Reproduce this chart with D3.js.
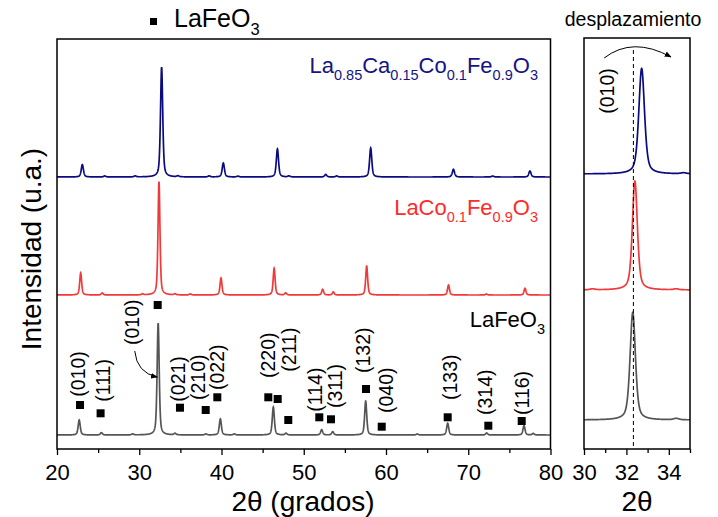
<!DOCTYPE html>
<html>
<head>
<meta charset="utf-8">
<script src="https://cdn.jsdelivr.net/npm/d3@7"></script>
<style>
body { margin: 0; background: #fff; }
text { font-family: "Liberation Sans", Arial, sans-serif; }
</style>
</head>
<body>
<svg id="chart" width="718" height="517"></svg>
<script>
// peaks: 2theta position, height (plot units ~ px)
const lfoPos = [22.7, 25.4, 29.2, 32.3, 34.35, 38.1, 39.86, 41.56, 46.3, 47.84, 52.18, 53.52, 57.53, 63.8, 67.5, 72.24, 76.78, 77.9];
const lfoHt  = [15, 2.3, 1, 112, 1.5, 1, 16, 1, 28, 1.7, 5.3, 3.3, 34, 1, 11.7, 2, 9.3, 1.5];
const lcfPos = [22.88, 25.5, 30.4, 32.4, 34.35, 36.2, 39.94, 46.4, 47.8, 52.3, 53.6, 57.65, 67.6, 72.2, 76.9];
const lcfHt  = [22, 2, 1, 113.5, 1, 1, 17, 26.7, 2, 5.7, 3, 29, 10, 1, 6.7];
const lccfPos = [23.08, 25.8, 29.5, 32.72, 34.7, 38.5, 40.22, 42, 46.8, 48.2, 52.67, 54, 58.14, 68.2, 72.97, 77.5];
const lccfHt  = [12.3, 1, 1, 110, 1, 1, 14, 0.8, 28, 1, 2.5, 1, 29, 7.7, 1, 6];

// vertical offsets of each pattern (main panel / zoom panel)
const offsetsMain = [14, 154, 272];
const offsetsZoom = [29, 159, 275];

// LaFeO3 reflections (markers) and hkl labels
const mkX = [22.8, 25.3, 32.24, 34.95, 38.08, 39.49, 45.69, 46.83, 48.12, 51.89, 53.31, 57.57, 59.48, 67.5, 72.44, 76.5];
const mkY = [44, 35.7, 144, 41.3, 39, 51.7, 51.7, 50, 29, 31.7, 29.7, 60, 22.3, 31.7, 23.3, 28];
const hklText = ["(010)", "(111)", "(010)", "(021)", "(210)", "(022)", "(220)", "(211)", "(114)", "(311)", "(132)", "(040)", "(133)", "(314)", "(116)"];
const hklX = [22.55, 25.59, 29.08, 34.75, 37.14, 39.53, 45.69, 48.24, 51.37, 53.8, 57.24, 60, 67.78, 72.04, 76.5];
const hklY = [52.3, 47.3, 104, 47.3, 49, 59, 71, 77.3, 37.3, 41, 76, 36, 49, 34, 34];

const mainTicks = [20, 30, 40, 50, 60, 70, 80];
const mainMinor = [25, 35, 45, 55, 65, 75];
const zoomTicks = [30, 32, 34];
const zoomMinor = [31, 33, 35];
const shiftRef = 32.33;

const svg = d3.select('#chart');
const colors = ['#555555', '#f03a3a', '#0b0b80'];

const x = d3.scaleLinear().domain([20, 80]).range([57, 550.5]);
const y = d3.scaleLinear().domain([0, 410]).range([449, 39]);
const xs = d3.scaleLinear().domain([30, 35]).range([584, 690]);
const ys = d3.scaleLinear().domain([0, 411]).range([449, 38]);

// pseudo-voigt profile built from the peak list
function profile(pos, hts, w, x0, x1, step, k) {
    const pts = [];
    for (let t = x0; t <= x1 + 1e-9; t += step) {
        let v = 0;
        for (let i = 0; i < pos.length; i++) {
            const u = (t - pos[i]) / w;
            v += hts[i] * k * (0.5 / (1 + 4 * u * u) + 0.5 * Math.exp(-2.7726 * u * u));
        }
        pts.push([t, v]);
    }
    return pts;
}

const series = [[lfoPos, lfoHt, 0.3], [lcfPos, lcfHt, 0.28], [lccfPos, lccfHt, 0.32]];

svg.append('clipPath').attr('id', 'clipMain').append('rect')
    .attr('x', 57).attr('y', 39).attr('width', 493.5).attr('height', 410);
svg.append('clipPath').attr('id', 'clipZoom').append('rect')
    .attr('x', 584).attr('y', 38).attr('width', 106).attr('height', 411);

// main panel curves
series.forEach((s, i) => {
    const pts = profile(s[0], s[1], s[2], 20, 80, 0.02, 1);
    svg.append('path')
        .datum(pts)
        .attr('clip-path', 'url(#clipMain)')
        .attr('fill', 'none')
        .attr('stroke', colors[i])
        .attr('stroke-width', 1.7)
        .attr('d', d3.line().x(d => x(d[0])).y(d => y(d[1] + offsetsMain[i])));
});

// zoom panel curves
series.forEach((s, i) => {
    const pts = profile(s[0], s[1], s[2], 30, 35, 0.005, 0.96);
    svg.append('path')
        .datum(pts)
        .attr('clip-path', 'url(#clipZoom)')
        .attr('fill', 'none')
        .attr('stroke', colors[i])
        .attr('stroke-width', 1.7)
        .attr('d', d3.line().x(d => xs(d[0])).y(d => ys(d[1] + offsetsZoom[i])));
});

// dashed reference line
svg.append('line')
    .attr('x1', xs(shiftRef)).attr('x2', xs(shiftRef))
    .attr('y1', 50).attr('y2', 449)
    .attr('stroke', '#000').attr('stroke-width', 1)
    .attr('stroke-dasharray', '4,3');

// frames
svg.append('rect').attr('x', 57).attr('y', 39).attr('width', 493.5).attr('height', 410)
    .attr('fill', 'none').attr('stroke', '#000').attr('stroke-width', 1.5);
svg.append('rect').attr('x', 584).attr('y', 38).attr('width', 106).attr('height', 411)
    .attr('fill', 'none').attr('stroke', '#000').attr('stroke-width', 1.5);

// axes
function styleAxis(g, size) {
    g.select('.domain').remove();
    g.selectAll('.tick line').attr('stroke', '#000').attr('stroke-width', 1.3);
    g.selectAll('.tick text').attr('font-size', size).attr('fill', '#000')
        .attr('font-family', '"Liberation Sans", Arial, sans-serif');
}
const fmt = d3.format('d');
svg.append('g').attr('transform', 'translate(0,449)')
    .call(d3.axisBottom(x).tickValues(mainTicks).tickSize(6).tickPadding(9).tickFormat(fmt))
    .call(g => styleAxis(g, 22));
svg.append('g').attr('transform', 'translate(0,449)')
    .call(d3.axisBottom(x).tickValues(mainMinor).tickSize(4).tickFormat(''))
    .call(g => styleAxis(g, 22));
svg.append('g').attr('transform', 'translate(0,449)')
    .call(d3.axisBottom(xs).tickValues(zoomTicks).tickSize(6).tickPadding(9).tickFormat(fmt))
    .call(g => styleAxis(g, 22));
svg.append('g').attr('transform', 'translate(0,449)')
    .call(d3.axisBottom(xs).tickValues(zoomMinor).tickSize(4).tickFormat(''))
    .call(g => styleAxis(g, 22));

// axis titles
svg.append('text').attr('x', 303).attr('y', 511).attr('text-anchor', 'middle')
    .attr('font-size', 28).text('2θ (grados)');
svg.append('text').attr('x', 637).attr('y', 511).attr('text-anchor', 'middle')
    .attr('font-size', 28).text('2θ');
svg.append('text').attr('transform', 'translate(41,249) rotate(-90)')
    .attr('text-anchor', 'middle').attr('font-size', 28).text('Intensidad (u.a.)');

// markers
svg.selectAll('rect.mk')
    .data(mkX)
    .join('rect')
    .attr('class', 'mk')
    .attr('x', (d) => x(d) - 4)
    .attr('y', (d, i) => y(mkY[i]) - 4)
    .attr('width', 8).attr('height', 8)
    .attr('fill', '#000');

svg.selectAll('text.hkl')
    .data(hklText)
    .join('text')
    .attr('class', 'hkl')
    .attr('transform', (d, i) => `translate(${x(hklX[i])},${y(hklY[i])}) rotate(-90)`)
    .attr('dy', '0.35em')
    .attr('font-size', 19.5)
    .text(d => d);

// arrow to main (010) peak
svg.append('defs').html('<marker id="ah" viewBox="0 0 10 10" refX="9" refY="5" markerWidth="7" markerHeight="7" orient="auto"><path d="M0,1 L10,5 L0,9 z" fill="#000"/></marker>');
svg.append('path')
    .attr('d', `M${x(29.45)},351 Q${x(29.7)},373 ${x(32.2)},377`)
    .attr('fill', 'none').attr('stroke', '#000').attr('stroke-width', 1)
    .attr('marker-end', 'url(#ah)');

// shift arrow in zoom panel
svg.append('path')
    .attr('d', `M${xs(30.95)},58 Q${xs(32.3)},36 ${xs(34.1)},57`)
    .attr('fill', 'none').attr('stroke', '#000').attr('stroke-width', 1)
    .attr('marker-end', 'url(#ah)');
svg.append('text')
    .attr('transform', `translate(${xs(31.08)},91) rotate(-90)`)
    .attr('text-anchor', 'middle').attr('dy', '0.35em').attr('font-size', 19.5)
    .text('(010)');
svg.append('text').attr('x', 633).attr('y', 26).attr('text-anchor', 'middle')
    .attr('font-size', 19.5).text('desplazamiento');

// formula labels
function formula(xp, yp, parts, size, color, anchor) {
    const t = svg.append('text').attr('x', xp).attr('y', yp)
        .attr('text-anchor', anchor).attr('fill', color).attr('font-size', size);
    let down = false;
    parts.forEach(p => {
        const sub = p[1];
        const ts = t.append('tspan').text(p[0]);
        if (sub && !down) { ts.attr('dy', size * 0.3).attr('font-size', size * 0.66); down = true; }
        else if (sub) { ts.attr('font-size', size * 0.66); }
        else if (down) { ts.attr('dy', -size * 0.3); down = false; }
    });
}
formula(538, 73, [['La', 0], ['0.85', 1], ['Ca', 0], ['0.15', 1], ['Co', 0], ['0.1', 1], ['Fe', 0], ['0.9', 1], ['O', 0], ['3', 1]], 22, '#141482', 'end');
formula(538, 215, [['LaCo', 0], ['0.1', 1], ['Fe', 0], ['0.9', 1], ['O', 0], ['3', 1]], 22, '#ff2a2a', 'end');
formula(545, 327, [['LaFeO', 0], ['3', 1]], 22, '#000', 'end');

// legend
svg.append('rect').attr('x', 150).attr('y', 18).attr('width', 7).attr('height', 7).attr('fill', '#000');
formula(174, 27, [['LaFeO', 0], ['3', 1]], 25, '#000', 'start');
</script>
</body>
</html>
